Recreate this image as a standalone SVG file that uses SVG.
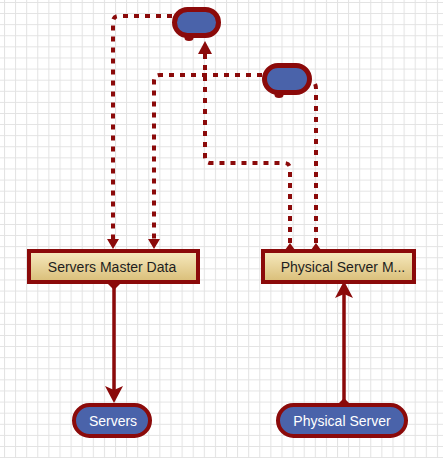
<svg xmlns="http://www.w3.org/2000/svg" width="443" height="458" viewBox="0 0 443 458">
<defs>
<pattern id="grid" x="4" y="2" width="11.1" height="11.1" patternUnits="userSpaceOnUse">
<path d="M0 0.5H11.1M0.5 0V11.1" fill="none" stroke="#e2e2e2" stroke-width="1"/>
</pattern>
<linearGradient id="gold" x1="0" y1="0" x2="0" y2="1">
<stop offset="0" stop-color="#f7ebc0"/>
<stop offset="1" stop-color="#d9bd77"/>
</linearGradient>
<style>
.pill{fill:#4a63aa;stroke:#8b0a0a;}
.box{fill:url(#gold);stroke:#8b0a0a;stroke-width:4;}
.dot{fill:none;stroke:#8b0a0a;stroke-width:4;stroke-dasharray:5 6;}
.solid{fill:none;stroke:#8b0a0a;stroke-width:3.5;}
.head{fill:#8b0a0a;stroke:none;}
.lbl{font-family:"Liberation Sans",Arial,sans-serif;font-size:14px;text-anchor:middle;}
.dark{fill:#1e1e1e;}
.light{fill:#ffffff;}
</style>
</defs>
<rect width="443" height="458" fill="#ffffff"/>
<rect width="443" height="458" fill="url(#grid)"/>

<g id="connectors">
<path class="dot" d="M172,16 H119 Q113,16 113,22 V240"/>
<polygon class="head" points="107,239 119,239 113,249"/>
<path class="dot" d="M262,75 H160 Q154,75 154,81 V240"/>
<polygon class="head" points="148,239 160,239 154,249"/>
<path class="dot" d="M290,243 V169 Q290,163 284,163 H211 Q205,163 205,157 V54"/>
<polygon class="head" points="198,54 212,54 205,41"/>
<path class="dot" d="M316,243 V89 Q316,82 311,80"/>
<polygon class="head" points="285,250 295,250 290,243"/>
<polygon class="head" points="311,250 321,250 316,243"/>
<path class="solid" d="M114,286 V392"/>
<polygon class="head" points="107,283 121,283 114,290"/>
<path class="head" d="M114,403 L105,386 L114,390 L123,386 Z"/>
<path class="solid" d="M344,401 V294"/>
<polygon class="head" points="338,404 350,404 344,398"/>
<path class="head" d="M344,281 L335,298 L344,294 L353,298 Z"/>
</g>

<g id="pill-top-1">
<rect class="pill" x="174.5" y="9.5" width="44" height="26" rx="13" stroke-width="5"/>
<ellipse class="head" cx="189" cy="38" rx="4.5" ry="3"/>
</g>
<g id="pill-top-2">
<rect class="pill" x="264.5" y="65.5" width="45" height="27" rx="13.5" stroke-width="5"/>
<ellipse class="head" cx="279" cy="95" rx="4.5" ry="3"/>
</g>

<g id="servers-master-data">
<rect class="box" x="29" y="251" width="169" height="31"/>
<text class="lbl dark" x="112" y="272">Servers Master Data</text>
</g>
<g id="physical-server-m">
<rect class="box" x="263" y="251" width="151" height="31"/>
<text class="lbl dark" x="343" y="272">Physical Server M...</text>
</g>

<g id="servers">
<rect class="pill" x="74" y="405" width="76" height="31" rx="15.5" stroke-width="4"/>
<text class="lbl light" x="113" y="426">Servers</text>
</g>
<g id="physical-server">
<rect class="pill" x="278" y="405" width="128" height="31" rx="15.5" stroke-width="4"/>
<text class="lbl light" x="342" y="426">Physical Server</text>
</g>
</svg>
